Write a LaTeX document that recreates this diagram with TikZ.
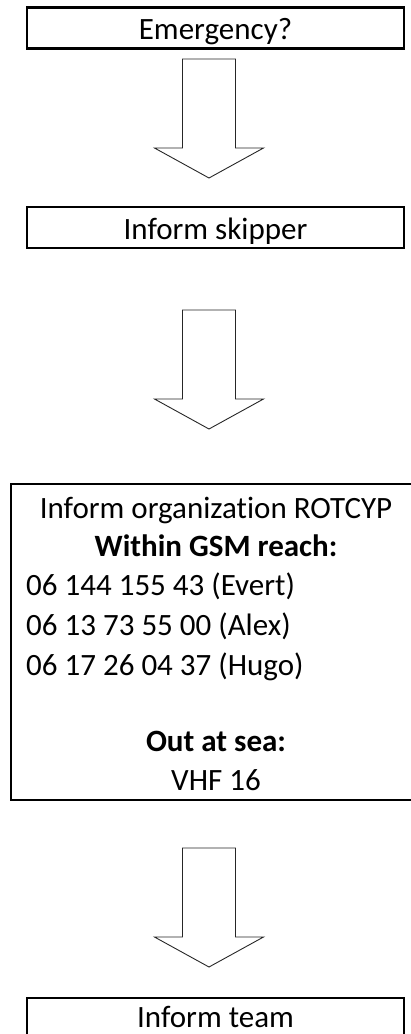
\documentclass[tikz,border=0pt]{standalone}
\usepackage{fontspec}
\setmainfont{Carlito}[Ligatures=NoCommon]
\usetikzlibrary{positioning}

\tikzset{
  stepbox/.style={draw,line width=2.2pt,rectangle,minimum width=377pt,
    text height=32pt,text depth=9pt,inner ysep=0pt,anchor=base,
    font=\fontsize{31}{37}\selectfont},
  txt/.style={inner sep=0pt,font=\fontsize{31}{37}\selectfont},
  arrowline/.style={draw=black!85,line width=0.9pt,line join=miter},
  pics/downarrow/.style={code={
    \draw[arrowline] (-26.5,0) -- (26.5,0) -- (26.5,89) -- (54.5,89)
      -- (0,119) -- (-54.5,89) -- (-26.5,89) -- cycle;}}
}

\begin{document}
\begin{tikzpicture}[x=1pt,y=-1pt]
	\useasboundingbox (0,0) rectangle (411,1034);

	\node[stepbox] (emerg) at (215.5,39.5) {Emergency?};
	\node[stepbox] (skipper) at (215.5,239) {Inform skipper};

	% organization box with its lines of text
	\node[draw,line width=2.2pt,rectangle,minimum width=410pt,minimum height=316pt] (org) at (216,642) {};
	\node[txt,anchor=base] (orgtitle) at (216,518) {Inform organization ROTCYP};
	\node[txt,anchor=base] (gsm) at (216,556) {\textbf{Within GSM reach:}};
	\node[txt,anchor=base west] (evert) at (26,595) {06 144 155 43 (Evert)};
	\node[txt,anchor=base west] (alex) at (26,635) {06 13 73 55 00 (Alex)};
	\node[txt,anchor=base west] (hugo) at (26,675) {06 17 26 04 37 (Hugo)};
	\node[txt,anchor=base] (sea) at (216,751) {\textbf{Out at sea:}};
	\node[txt,anchor=base] (vhf) at (216,790) {VHF 16};

	\node[stepbox,text height=29pt,text depth=14pt] (team) at (215.5,1027) {Inform team};

	\path (209,59) pic {downarrow}
	(209,310) pic {downarrow}
	(209,848) pic {downarrow};
\end{tikzpicture}
\end{document}
